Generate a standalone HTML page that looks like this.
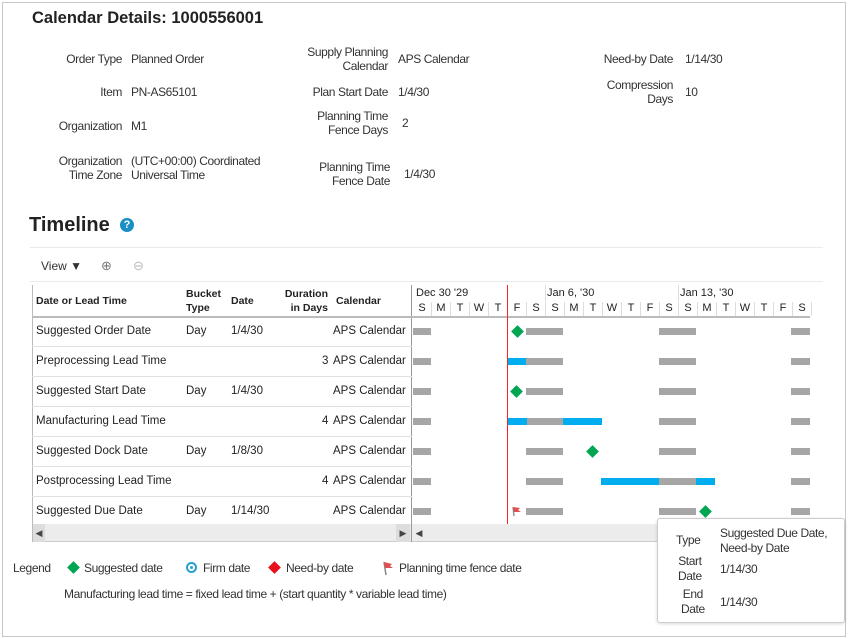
<!DOCTYPE html>
<html><head><meta charset="utf-8"><style>
*{margin:0;padding:0;box-sizing:border-box}
body{width:848px;height:639px;background:#fff;font-family:"Liberation Sans",sans-serif;color:#333;position:relative;overflow:hidden}
.a{position:absolute;white-space:nowrap}
.n{font-family:"Liberation Sans",sans-serif;font-size:12px;letter-spacing:-0.4px;color:#333;line-height:14px}
.l{text-align:right}
.t{font-size:11.5px;color:#222}
.h{font-size:10.5px;font-weight:bold;color:#222;line-height:14px}
.g{position:absolute;height:7px;background:#a6a6a6}
.b{position:absolute;height:7px;background:#00aeef}
.d{position:absolute;width:9px;height:9px;background:#00a651;transform:rotate(45deg)}
.hl{position:absolute;height:1px;background:#e0e0e0}
</style></head><body>
<div class="a" style="left:2px;top:2px;width:844px;height:635px;border:1px solid #c8c8c8"></div>
<div class="a" style="left:32px;top:9px;font-size:16.5px;font-weight:bold;color:#222">Calendar Details: 1000556001</div>

<div class="a n l" style="right:726px;top:52px">Order Type</div><div class="a n" style="left:131px;top:52px">Planned Order</div>
<div class="a n l" style="right:726px;top:85px">Item</div><div class="a n" style="left:131px;top:85px">PN-AS65101</div>
<div class="a n l" style="right:726px;top:119px">Organization</div><div class="a n" style="left:131px;top:119px">M1</div>
<div class="a n l" style="right:726px;top:154px">Organization<br>Time Zone</div><div class="a n" style="left:131px;top:154px">(UTC+00:00) Coordinated<br>Universal Time</div>

<div class="a n l" style="right:460px;top:45px">Supply Planning<br>Calendar</div><div class="a n" style="left:398px;top:52px">APS Calendar</div>
<div class="a n l" style="right:460px;top:85px">Plan Start Date</div><div class="a n" style="left:398px;top:85px">1/4/30</div>
<div class="a n l" style="right:460px;top:109px">Planning Time<br>Fence Days</div><div class="a n" style="left:402px;top:116px">2</div>
<div class="a n l" style="right:458px;top:160px">Planning Time<br>Fence Date</div><div class="a n" style="left:404px;top:167px">1/4/30</div>

<div class="a n l" style="right:175px;top:52px">Need-by Date</div><div class="a n" style="left:685px;top:52px">1/14/30</div>
<div class="a n l" style="right:175px;top:78px">Compression<br>Days</div><div class="a n" style="left:685px;top:85px">10</div>

<div class="a" style="left:29px;top:214px;font-size:20px;font-weight:bold;color:#222">Timeline</div>
<div class="a" style="left:120px;top:218px;width:14px;height:14px;border-radius:7px;background:#1a8fc6;color:#fff;font-size:11px;font-weight:bold;text-align:center;line-height:14px">?</div>
<div class="hl" style="left:30px;top:247px;width:793px;background:#eaeaea"></div>
<div class="a" style="left:41px;top:259px;font-size:12px;color:#333">View &#9660;</div>
<div class="a" style="left:101px;top:258px;font-size:13px;color:#777">&#8853;</div>
<div class="a" style="left:133px;top:258px;font-size:13px;color:#bbb">&#8854;</div>
<div class="hl" style="left:30px;top:281px;width:793px;background:#eaeaea"></div>

<div class="a" style="left:32px;top:285px;width:778px;height:257px;border-left:1px solid #bbb"></div>
<div class="a" style="left:411px;top:285px;width:1px;height:257px;background:#999"></div>
<div class="hl" style="left:32px;top:316px;width:778px;background:#bbb;height:2px"></div>
<div class="a h" style="left:36px;top:294px">Date or Lead Time</div>
<div class="a h" style="left:186px;top:287px">Bucket<br>Type</div>
<div class="a h" style="left:231px;top:294px">Date</div>
<div class="a h l" style="right:520px;top:287px">Duration<br>in Days</div>
<div class="a h" style="left:336px;top:294px">Calendar</div>

<div class="a t" style="left:416px;top:287px;font-size:11px">Dec 30 '29</div>
<div class="a t" style="left:547px;top:287px;font-size:11px">Jan 6, '30</div>
<div class="a t" style="left:680px;top:287px;font-size:11px">Jan 13, '30</div>
<div class="a" style="left:545px;top:285px;width:1px;height:16px;background:#ddd"></div>
<div class="a" style="left:678px;top:285px;width:1px;height:16px;background:#ddd"></div>
<div id="days"></div>

<div class="a t" style="left:36px;top:325px">Suggested Order Date</div><div class="a t" style="left:186px;top:325px">Day</div><div class="a t" style="left:231px;top:325px">1/4/30</div><div class="a t" style="left:333px;top:325px">APS Calendar</div>
<div class="hl" style="left:32px;top:346px;width:380px"></div>
<div class="a t" style="left:36px;top:355px">Preprocessing Lead Time</div><div class="a t" style="left:322px;top:355px">3</div><div class="a t" style="left:333px;top:355px">APS Calendar</div>
<div class="hl" style="left:32px;top:376px;width:380px"></div>
<div class="a t" style="left:36px;top:385px">Suggested Start Date</div><div class="a t" style="left:186px;top:385px">Day</div><div class="a t" style="left:231px;top:385px">1/4/30</div><div class="a t" style="left:333px;top:385px">APS Calendar</div>
<div class="hl" style="left:32px;top:406px;width:380px"></div>
<div class="a t" style="left:36px;top:415px">Manufacturing Lead Time</div><div class="a t" style="left:322px;top:415px">4</div><div class="a t" style="left:333px;top:415px">APS Calendar</div>
<div class="hl" style="left:32px;top:436px;width:380px"></div>
<div class="a t" style="left:36px;top:445px">Suggested Dock Date</div><div class="a t" style="left:186px;top:445px">Day</div><div class="a t" style="left:231px;top:445px">1/8/30</div><div class="a t" style="left:333px;top:445px">APS Calendar</div>
<div class="hl" style="left:32px;top:466px;width:380px"></div>
<div class="a t" style="left:36px;top:475px">Postprocessing Lead Time</div><div class="a t" style="left:322px;top:475px">4</div><div class="a t" style="left:333px;top:475px">APS Calendar</div>
<div class="hl" style="left:32px;top:496px;width:380px"></div>
<div class="a t" style="left:36px;top:505px">Suggested Due Date</div><div class="a t" style="left:186px;top:505px">Day</div><div class="a t" style="left:231px;top:505px">1/14/30</div><div class="a t" style="left:333px;top:505px">APS Calendar</div>

<div id="bars"></div>
<div style="position:absolute;left:507px;top:285px;width:1px;height:239px;background:#ff2020;z-index:5"></div>

<div class="a" style="left:33px;top:524px;width:777px;height:18px;background:#ececec;border-bottom:1px solid #ccc"></div>
<div class="a" style="left:33px;top:524px;width:12px;height:18px;background:#ddd;font-size:9px;line-height:18px;text-align:center;color:#444">&#9664;</div>
<div class="a" style="left:396px;top:524px;width:14px;height:18px;background:#ddd;font-size:9px;line-height:18px;text-align:center;color:#444">&#9654;</div>
<div class="a" style="left:411px;top:524px;width:1px;height:18px;background:#999"></div>
<div class="a" style="left:413px;top:524px;width:12px;height:18px;font-size:9px;line-height:18px;text-align:center;color:#444">&#9664;</div>

<div class="a" style="left:657px;top:518px;width:188px;height:105px;background:#fff;border:1px solid #ccc;border-radius:3px;box-shadow:0 1px 3px rgba(0,0,0,.15);z-index:6"></div>
<div style="position:absolute;z-index:7;left:0;top:0">
<div class="a n" style="left:676px;top:533px">Type</div>
<div class="a n" style="left:720px;top:526px;line-height:15px">Suggested Due Date,<br>Need-by Date</div>
<div class="a n" style="left:678px;top:554px;line-height:15px;text-align:center">Start<br>Date</div>
<div class="a n" style="left:720px;top:562px">1/14/30</div>
<div class="a n" style="left:681px;top:587px;line-height:15px;text-align:center">End<br>Date</div>
<div class="a n" style="left:720px;top:595px">1/14/30</div>
</div>

<div class="a n" style="left:13px;top:561px">Legend</div>
<div class="d" style="left:69px;top:563px"></div><div class="a n" style="left:84px;top:561px">Suggested date</div>
<div class="a" style="left:186px;top:562px;width:11px;height:11px;border:2px solid #2a9fd6;border-radius:6px"></div><div class="a" style="left:190px;top:566px;width:3px;height:3px;background:#2a9fd6;border-radius:2px"></div><div class="a n" style="left:203px;top:561px">Firm date</div>
<div class="d" style="left:270px;top:563px;background:#e8101a"></div><div class="a n" style="left:286px;top:561px">Need-by date</div>
<svg class="a" style="left:381px;top:560px" width="14" height="16"><line x1="3" y1="2" x2="5" y2="15" stroke="#888" stroke-width="1.5"/><path d="M3 2 L11 4 L9 6 L12 8 L4 8Z" fill="#e05050"/></svg>
<div class="a n" style="left:399px;top:561px">Planning time fence date</div>
<div class="a n" style="left:64px;top:587px">Manufacturing lead time = fixed lead time + (start quantity * variable lead time)</div>

<script>
var L="SMTWTFSSMTWTFSSMTWTFS",h="";
for(var i=0;i<21;i++){var x=413+19*i;h+='<div class="a t" style="left:'+x+'px;top:302px;width:19px;text-align:center;border-right:1px solid #ddd;height:14px;font-size:11px">'+L[i]+'</div>';}
document.getElementById('days').innerHTML=h;
var rows=[331,361,391,421,451,481,511],b="";
rows.forEach(function(c,r){var y=c-3;
 b+='<div class="g" style="left:413px;top:'+y+'px;width:18px"></div>';
 b+='<div class="g" style="left:526px;top:'+y+'px;width:37px"></div>';
 b+='<div class="g" style="left:659px;top:'+y+'px;width:37px"></div>';
 b+='<div class="g" style="left:791px;top:'+y+'px;width:19px"></div>';
});
function bl(x,w,c){b+='<div class="b" style="left:'+x+'px;top:'+(c-3)+'px;width:'+w+'px"></div>';}
function dm(x,c){b+='<div class="d" style="left:'+(x-4)+'px;top:'+(c-4)+'px"></div>';}
dm(517,331);bl(508,18,361);dm(516,391);bl(508,19,421);bl(563,39,421);dm(592,451);bl(601,58,481);bl(696,19,481);dm(705,511);
b+='<svg class="a" style="left:511px;top:505px" width="12" height="12"><line x1="2" y1="2" x2="3" y2="11" stroke="#888" stroke-width="1.3"/><path d="M2 2 L9 3 L7 5 L10 7 L3 7Z" fill="#e05050"/></svg>';
document.getElementById('bars').innerHTML=b;
</script>
</body></html>
